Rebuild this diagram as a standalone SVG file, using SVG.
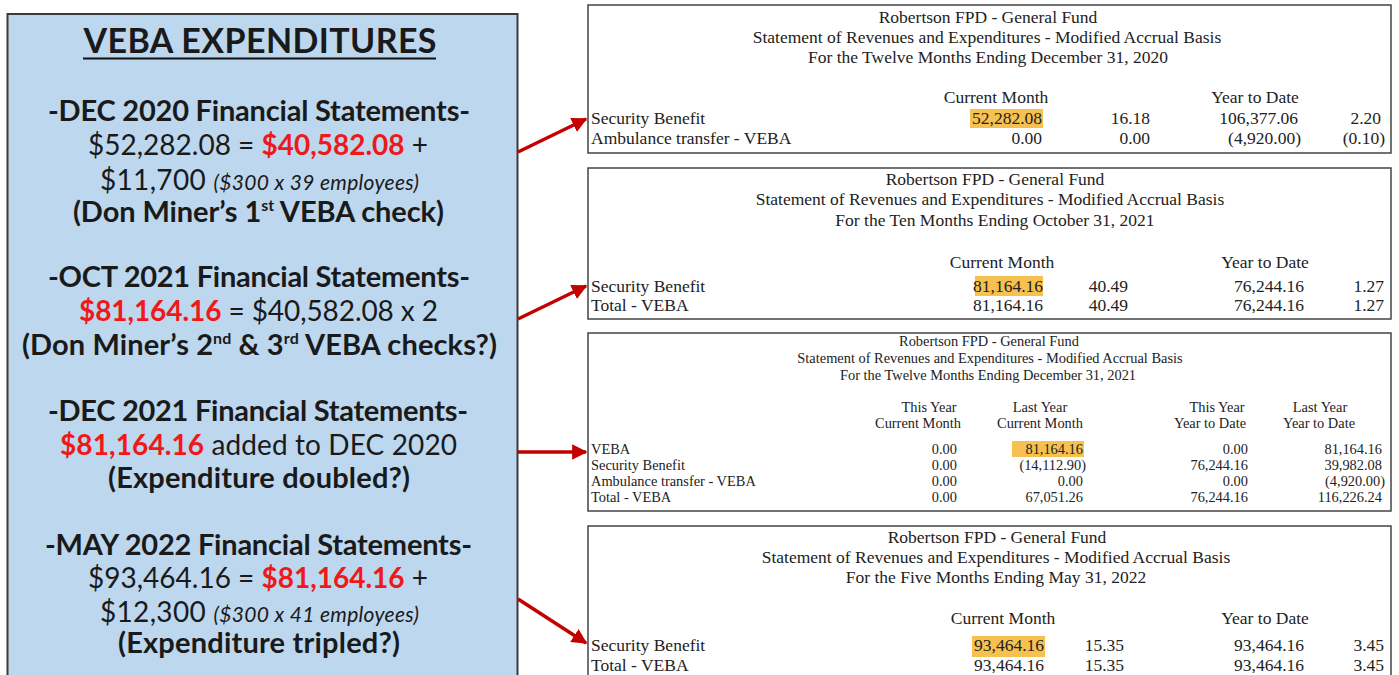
<svg xmlns="http://www.w3.org/2000/svg" width="1399" height="675" viewBox="0 0 1399 675">
<style>
.lp{font-family:Lato,"Open Sans","Liberation Sans",sans-serif;fill:#1a1a1a;text-anchor:middle}
.hd{font-size:29px;font-weight:700}
.rg{font-size:28px;font-weight:400}
.red{fill:#f01818;font-weight:700}
.it{font-style:italic;font-size:21px}
.sup{font-size:16px}
.st{font-family:"Liberation Serif","Times New Roman",serif;font-size:17.5px;fill:#222}
.st3{font-family:"Liberation Serif","Times New Roman",serif;font-size:14.4px;fill:#222}
.c{text-anchor:middle}
.e{text-anchor:end}
.box{fill:#fff;stroke:#444;stroke-width:1.5}
.hl{fill:#f6c14f}
.arr{stroke:#c40000;stroke-width:3.5;fill:none;marker-end:url(#ah)}
</style>
<defs>
<marker id="ah" viewBox="0 0 10 10" refX="9" refY="5" markerWidth="4.4" markerHeight="4.4" orient="auto" markerUnits="strokeWidth">
<path d="M0,0 L10,5 L0,10 z" fill="#c40000"/>
</marker>
</defs>
<rect width="1399" height="675" fill="#fff"/>

<g id="veba-panel">
<rect x="7.5" y="14" width="510" height="680" fill="#bdd7ee" stroke="#3a3a3a" stroke-width="2"/>
<text class="lp" x="260" y="53" font-size="34" font-weight="700" fill="#111" textLength="353">VEBA EXPENDITURES</text>
<line x1="83" y1="58.5" x2="436" y2="58.5" stroke="#111" stroke-width="2"/>
<text class="lp hd" x="259" y="121" textLength="422">-DEC 2020 Financial Statements-</text>
<text class="lp rg" x="258" y="155" textLength="340">$52,282.08 = <tspan class="red">$40,582.08</tspan> +</text>
<text class="lp rg" x="259.5" y="190" textLength="319">$11,700 <tspan class="it">($300 x 39 employees)</tspan></text>
<text class="lp hd" x="258.5" y="222" textLength="371">(Don Miner’s 1<tspan class="sup" dy="-11">st</tspan><tspan dy="11"> VEBA check)</tspan></text>
<text class="lp hd" x="259" y="287" textLength="422">-OCT 2021 Financial Statements-</text>
<text class="lp rg" x="258.5" y="321" textLength="359"><tspan class="red">$81,164.16</tspan> = $40,582.08 x 2</text>
<text class="lp hd" x="259.5" y="355" textLength="475">(Don Miner’s 2<tspan class="sup" dy="-11">nd</tspan><tspan dy="11"> &amp; 3</tspan><tspan class="sup" dy="-11">rd</tspan><tspan dy="11"> VEBA checks?)</tspan></text>
<text class="lp hd" x="258" y="421" textLength="420">-DEC 2021 Financial Statements-</text>
<text class="lp rg" x="258.5" y="455" textLength="397"><tspan class="red">$81,164.16</tspan> added to DEC 2020</text>
<text class="lp hd" x="259" y="488" textLength="302">(Expenditure doubled?)</text>
<text class="lp hd" x="258.5" y="555" textLength="427">-MAY 2022 Financial Statements-</text>
<text class="lp rg" x="258" y="588" textLength="340">$93,464.16 = <tspan class="red">$81,164.16</tspan> +</text>
<text class="lp rg" x="259.5" y="622" textLength="319">$12,300 <tspan class="it">($300 x 41 employees)</tspan></text>
<text class="lp hd" x="259" y="653" textLength="282">(Expenditure tripled?)</text>
</g>

<g id="stmt-dec-2020">
<rect class="box" x="588" y="5" width="803" height="148"/>
<text class="st c" x="988" y="23">Robertson FPD - General Fund</text>
<text class="st c" x="987" y="43">Statement of Revenues and Expenditures - Modified Accrual Basis</text>
<text class="st c" x="988" y="63">For the Twelve Months Ending December 31, 2020</text>
<text class="st c" x="996" y="103">Current Month</text>
<text class="st c" x="1255" y="103">Year to Date</text>
<rect class="hl" x="970" y="109" width="73" height="19"/>
<text class="st" x="591" y="124">Security Benefit</text>
<text class="st e" x="1042" y="124">52,282.08</text>
<text class="st e" x="1150" y="124">16.18</text>
<text class="st e" x="1298" y="124">106,377.06</text>
<text class="st e" x="1381" y="124">2.20</text>
<text class="st" x="591" y="144">Ambulance transfer - VEBA</text>
<text class="st e" x="1042" y="144">0.00</text>
<text class="st e" x="1150" y="144">0.00</text>
<text class="st e" x="1301" y="144">(4,920.00)</text>
<text class="st e" x="1385" y="144">(0.10)</text>
</g>

<g id="stmt-oct-2021">
<rect class="box" x="588" y="168" width="803" height="151"/>
<text class="st c" x="995" y="185">Robertson FPD - General Fund</text>
<text class="st c" x="990" y="205">Statement of Revenues and Expenditures - Modified Accrual Basis</text>
<text class="st c" x="995" y="226">For the Ten Months Ending October 31, 2021</text>
<text class="st c" x="1002" y="268">Current Month</text>
<text class="st c" x="1265" y="268">Year to Date</text>
<rect class="hl" x="975" y="276" width="68" height="20"/>
<text class="st" x="591" y="292">Security Benefit</text>
<text class="st e" x="1043" y="292">81,164.16</text>
<text class="st e" x="1128" y="292">40.49</text>
<text class="st e" x="1304" y="292">76,244.16</text>
<text class="st e" x="1384" y="292">1.27</text>
<text class="st" x="591" y="311">Total - VEBA</text>
<text class="st e" x="1043" y="311">81,164.16</text>
<text class="st e" x="1128" y="311">40.49</text>
<text class="st e" x="1304" y="311">76,244.16</text>
<text class="st e" x="1384" y="311">1.27</text>
</g>

<g id="stmt-dec-2021">
<rect class="box" x="588" y="333" width="803" height="178"/>
<text class="st3 c" x="989" y="346">Robertson FPD - General Fund</text>
<text class="st3 c" x="990" y="363">Statement of Revenues and Expenditures - Modified Accrual Basis</text>
<text class="st3 c" x="988" y="380">For the Twelve Months Ending December 31, 2021</text>
<text class="st3 c" x="929" y="412">This Year</text>
<text class="st3 c" x="918" y="428">Current Month</text>
<text class="st3 c" x="1040" y="412">Last Year</text>
<text class="st3 c" x="1040" y="428">Current Month</text>
<text class="st3 c" x="1217" y="412">This Year</text>
<text class="st3 c" x="1210" y="428">Year to Date</text>
<text class="st3 c" x="1320" y="412">Last Year</text>
<text class="st3 c" x="1319" y="428">Year to Date</text>
<rect class="hl" x="1012" y="441" width="72" height="16"/>
<text class="st3" x="591" y="454">VEBA</text>
<text class="st3 e" x="957" y="454">0.00</text>
<text class="st3 e" x="1083" y="454">81,164.16</text>
<text class="st3 e" x="1248" y="454">0.00</text>
<text class="st3 e" x="1382" y="454">81,164.16</text>
<text class="st3" x="591" y="470">Security Benefit</text>
<text class="st3 e" x="957" y="470">0.00</text>
<text class="st3 e" x="1086" y="470">(14,112.90)</text>
<text class="st3 e" x="1248" y="470">76,244.16</text>
<text class="st3 e" x="1382" y="470">39,982.08</text>
<text class="st3" x="591" y="486">Ambulance transfer - VEBA</text>
<text class="st3 e" x="957" y="486">0.00</text>
<text class="st3 e" x="1083" y="486">0.00</text>
<text class="st3 e" x="1248" y="486">0.00</text>
<text class="st3 e" x="1385" y="486">(4,920.00)</text>
<text class="st3" x="591" y="502">Total - VEBA</text>
<text class="st3 e" x="957" y="502">0.00</text>
<text class="st3 e" x="1083" y="502">67,051.26</text>
<text class="st3 e" x="1248" y="502">76,244.16</text>
<text class="st3 e" x="1382" y="502">116,226.24</text>
</g>

<g id="stmt-may-2022">
<rect class="box" x="588" y="526" width="803" height="170"/>
<text class="st c" x="997" y="543">Robertson FPD - General Fund</text>
<text class="st c" x="996" y="563">Statement of Revenues and Expenditures - Modified Accrual Basis</text>
<text class="st c" x="996" y="583">For the Five Months Ending May 31, 2022</text>
<text class="st c" x="1003" y="624">Current Month</text>
<text class="st c" x="1265" y="624">Year to Date</text>
<rect class="hl" x="972" y="636" width="73" height="21"/>
<text class="st" x="591" y="651">Security Benefit</text>
<text class="st e" x="1044" y="651">93,464.16</text>
<text class="st e" x="1124" y="651">15.35</text>
<text class="st e" x="1304" y="651">93,464.16</text>
<text class="st e" x="1384" y="651">3.45</text>
<text class="st" x="591" y="671">Total - VEBA</text>
<text class="st e" x="1044" y="671">93,464.16</text>
<text class="st e" x="1124" y="671">15.35</text>
<text class="st e" x="1304" y="671">93,464.16</text>
<text class="st e" x="1384" y="671">3.45</text>
</g>

<g id="connectors">
<line class="arr" x1="518" y1="152" x2="586" y2="119"/>
<line class="arr" x1="518" y1="319" x2="586" y2="286"/>
<line class="arr" x1="518" y1="452" x2="586" y2="452"/>
<line class="arr" x1="518" y1="599" x2="586" y2="643"/>
</g>
</svg>
